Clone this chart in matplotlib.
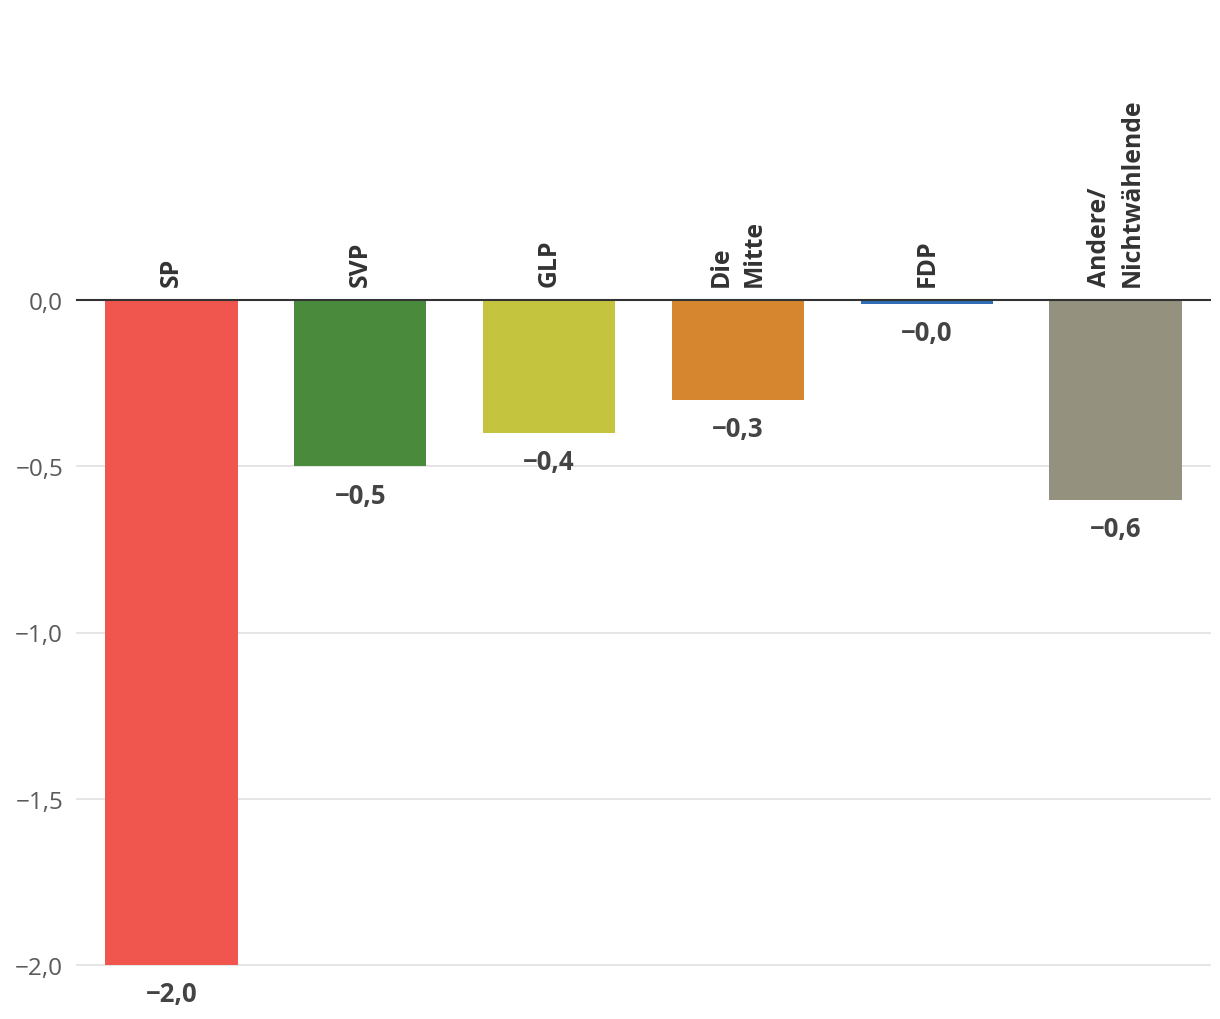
import matplotlib
matplotlib.use("Agg")
import matplotlib.pyplot as plt

plt.rcParams['font.family'] = ['Open Sans', 'Noto Sans', 'DejaVu Sans']

parties = ["SP", "SVP", "GLP", "Die\nMitte", "FDP", "Andere/\nNichtwählende"]
values = [-2.0, -0.5, -0.4, -0.3, -0.012, -0.6]
colors = ["#F0554E", "#4A8A3C", "#C5C43E", "#D5862F", "#2F6DB5", "#94917F"]
yticks = [0.0, -0.5, -1.0, -1.5, -2.0]


def fmt(v):
    s = f"{abs(v):.1f}".replace(".", ",")
    return "\u2212" + s if v < 0 else s


fig = plt.figure(figsize=(12.2, 10.2), dpi=100)
ax = fig.add_axes([77 / 1220, 1 - 966 / 1020, 1133 / 1220, 665 / 1020])

x = list(range(len(parties)))
ax.bar(x, values, width=0.7, color=colors, zorder=2)

ax.set_xlim(-0.5, len(parties) - 0.5)
ax.set_ylim(-2.0, 0.0)

for t in yticks[1:]:
    ax.axhline(t, color="#e3e3e3", lw=1.3, zorder=1, clip_on=False)
ax.axhline(0, color="#333333", lw=1.5, zorder=3, clip_on=False)

ax.set_yticks(yticks)
ax.set_yticklabels([fmt(t) for t in yticks])
ax.tick_params(axis="y", length=0, pad=10, labelsize=17.5, labelcolor="#5a5a5a")
ax.set_xticks([])
for s in ax.spines.values():
    s.set_visible(False)

for xi, v, name in zip(x, values, parties):
    ax.annotate(fmt(v), (xi, v),
                xytext=(0, -11), textcoords="offset points",
                ha="center", va="top", fontsize=18.5, fontweight="bold",
                color="#444444")
    ax.annotate(name, (xi, 0), xytext=(0, 10), textcoords="offset points",
                ha="center", va="bottom", rotation=90, multialignment="left",
                fontsize=17.8, fontweight="bold", color="#333333",
                linespacing=1.4)

fig.savefig("out.png", dpi=100)
